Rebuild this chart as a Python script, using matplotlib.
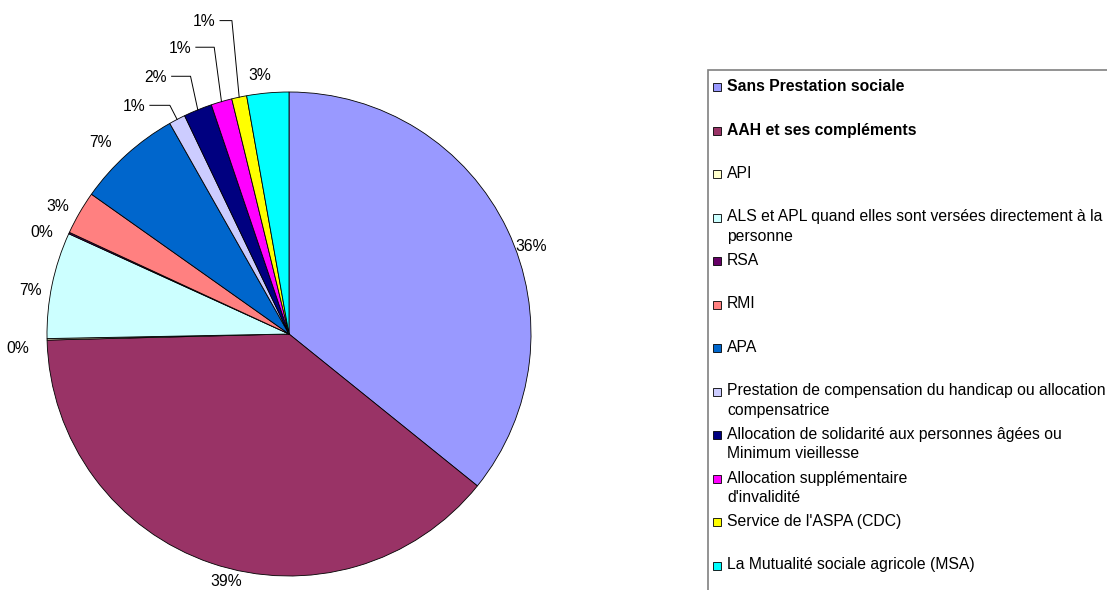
import numpy as np
import matplotlib.pyplot as plt
from matplotlib.patches import Rectangle

categories = [
    "Sans Prestation sociale",
    "AAH et ses compléments",
    "API",
    "ALS et APL quand elles sont versées directement à la\npersonne",
    "RSA",
    "RMI",
    "APA",
    "Prestation de compensation du handicap ou allocation\ncompensatrice",
    "Allocation de solidarité aux personnes âgées ou\nMinimum vieillesse",
    "Allocation supplémentaire\nd'invalidité",
    "Service de l'ASPA (CDC)",
    "La Mutualité sociale agricole (MSA)",
]
shares = [35.8, 38.8, 0.1, 7.1, 0.1, 2.9, 7.0, 1.1, 1.9, 1.4, 1.0, 2.8]
bold_entries = [0, 1]

colors = ["#9999FF", "#993366", "#FFFFCC", "#CCFFFF", "#660066", "#FF8080",
          "#0066CC", "#CCCCFF", "#000080", "#FF00FF", "#FFFF00", "#00FFFF"]

# label placement (data units, pie radius = 1), as Excel laid them out
label_pos = {0: (1.0, 0.36), 1: (-0.26, -1.022), 2: (-1.12, -0.06), 3: (-1.07, 0.18),
             4: (-1.02, 0.42), 5: (-0.955, 0.525), 6: (-0.78, 0.79), 11: (-0.12, 1.07)}
# callout labels (with leader lines) for the thin slices
callouts = {7: (-0.64, 0.94), 8: (-0.55, 1.06), 9: (-0.45, 1.18), 10: (-0.35, 1.29)}

plt.rcParams["font.family"] = ["Liberation Sans", "DejaVu Sans"]
FS = 11.3

W, H = 1107, 590
fig = plt.figure(figsize=(W / 100, H / 100), dpi=100)
cx, cy, R = 289, 334, 242
ax = fig.add_axes([0, 0, 700 / W, 1])

wedges, _ = ax.pie(shares, colors=colors, startangle=90, counterclock=False,
                   radius=1.0, wedgeprops=dict(edgecolor="black", linewidth=0.6))
ax.set_xlim(-cx / R, (700 - cx) / R)
ax.set_ylim(-(H - cy) / R, cy / R)
ax.set_aspect("auto")
ax.axis("off")

total = sum(shares)
for i, w in enumerate(wedges):
    pct = "%d%%" % round(shares[i] / total * 100)
    mid = np.deg2rad((w.theta1 + w.theta2) / 2)
    if i in callouts:
        tx, ty = callouts[i]
        ax.text(tx, ty, pct, ha="center", va="center", fontsize=FS)
        ex, ey = np.cos(mid), np.sin(mid)
        elbow = ex - 0.03
        ax.plot([tx + 0.065, elbow, ex], [ty + 0.005, ty + 0.005, ey],
                color="black", lw=0.7, clip_on=False)
    else:
        tx, ty = label_pos.get(i, (1.12 * np.cos(mid), 1.12 * np.sin(mid)))
        ax.text(tx, ty, pct, ha="center", va="center", fontsize=FS, clip_on=False)

# legend drawn by hand, Excel style
box_left, box_top = 708, 70
fig.patches.append(Rectangle((box_left / W, -0.05), 1.0, (H - box_top) / H + 0.05,
                             transform=fig.transFigure, fill=False,
                             edgecolor="#808080", lw=1.2))
slot = 43.5
for i, name in enumerate(categories):
    y = 87 + i * slot
    fig.patches.append(Rectangle((713 / W, 1 - (y + 4) / H), 8 / W, 8 / H,
                                 transform=fig.transFigure, facecolor=colors[i],
                                 edgecolor="black", lw=0.6))
    fig.text(727 / W, 1 - (y - 8) / H, name, ha="left", va="top", fontsize=FS,
             fontweight="bold" if i in bold_entries else "normal",
             linespacing=1.35)

fig.savefig("out.png", dpi=100, facecolor="white")
